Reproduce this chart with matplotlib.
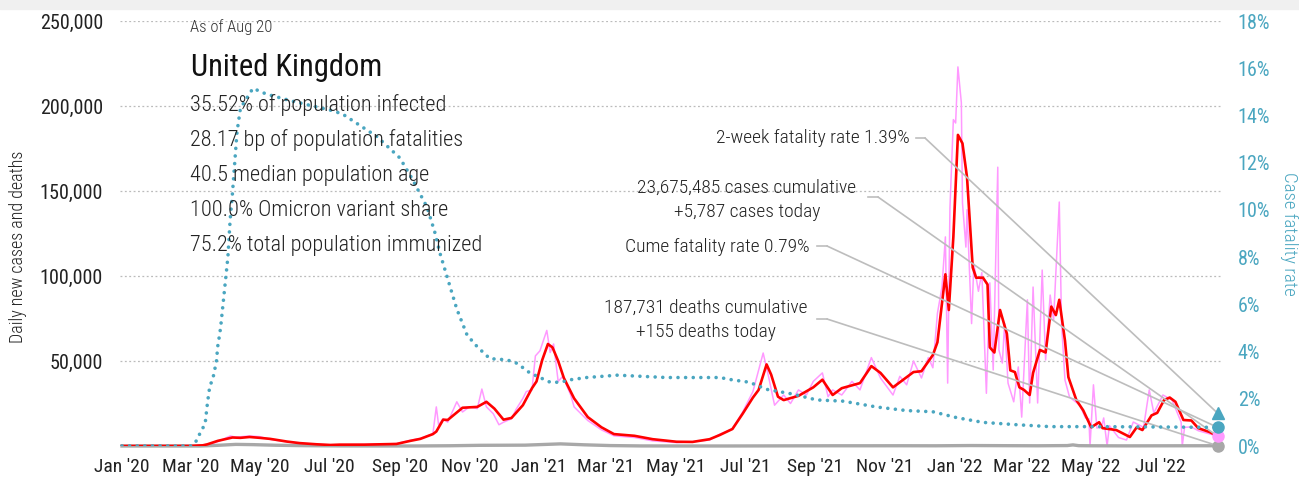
import matplotlib
matplotlib.use("Agg")
import matplotlib.pyplot as plt
import matplotlib.font_manager as fm
import matplotlib.dates as mdates
from matplotlib.patches import Rectangle
import pandas as pd

# ---------------- data ----------------
red_dates = ["2020-01-01","2020-03-01","2020-03-12","2020-03-16","2020-03-25","2020-04-07","2020-04-14","2020-04-22",
             "2020-05-01","2020-05-10","2020-05-25","2020-06-05","2020-06-20","2020-07-02","2020-07-10","2020-08-01",
             "2020-08-29","2020-09-10","2020-09-19","2020-09-30","2020-10-03","2020-10-09","2020-10-13","2020-10-26",
             "2020-11-08","2020-11-16","2020-11-23","2020-12-01","2020-12-08","2020-12-18","2020-12-26","2020-12-30",
             "2021-01-04","2021-01-09","2021-01-13","2021-01-18","2021-01-23","2021-02-01","2021-02-13","2021-02-25",
             "2021-03-08","2021-03-26","2021-04-11","2021-05-02","2021-05-16","2021-05-31","2021-06-09","2021-06-20",
             "2021-06-29","2021-07-08","2021-07-13","2021-07-20","2021-07-24","2021-07-30","2021-08-04","2021-08-17",
             "2021-08-30","2021-09-07","2021-09-16","2021-09-24","2021-10-10","2021-10-20","2021-10-28","2021-11-08",
             "2021-11-14","2021-11-26","2021-12-03","2021-12-13","2021-12-17","2021-12-24","2021-12-27","2021-12-31",
             "2022-01-04","2022-01-08","2022-01-12","2022-01-17","2022-01-20","2022-01-26","2022-01-30","2022-02-01",
             "2022-02-05","2022-02-10","2022-02-16","2022-02-19","2022-02-23","2022-02-27","2022-03-03","2022-03-08",
             "2022-03-11","2022-03-17","2022-03-22","2022-03-27","2022-03-31","2022-04-03","2022-04-08","2022-04-11",
             "2022-04-18","2022-04-24","2022-05-01","2022-05-08","2022-05-11","2022-05-23","2022-06-04","2022-06-10",
             "2022-06-15","2022-06-23","2022-06-28","2022-07-04","2022-07-09","2022-07-14","2022-07-21","2022-07-28",
             "2022-08-03","2022-08-13","2022-08-20"]
red_values = [0,30,400,1000,3000,5000,4800,5300,
              4800,4200,2600,1700,1000,600,800,800,
              1200,3000,4200,7000,8500,15500,15300,22500,
              23000,26000,22000,15500,16500,24000,34000,38000,
              50600,60000,58000,50000,40000,28000,17000,11000,
              7000,6000,4000,2500,2400,4000,6500,10000,
              19000,28500,33000,48000,42000,29000,27000,29500,
              34500,39000,30000,34000,37000,47000,43000,34500,
              37500,43500,44000,53500,61000,101000,80000,123000,
              183000,178000,158000,105000,99000,99000,95000,58000,
              55000,80000,66000,44500,43500,34500,33000,30000,
              43000,56500,55000,82000,77000,86000,62000,40500,
              27000,21000,11000,14000,10500,9400,5300,11000,
              9400,18000,19500,27000,28500,26000,15300,15000,
              10500,8200,5800]

pink_dates = ["2020-01-01","2020-03-01","2020-03-16","2020-03-25","2020-04-05","2020-04-10","2020-04-22","2020-05-01",
              "2020-05-10","2020-05-25","2020-06-05","2020-07-02","2020-08-01","2020-08-29","2020-09-10","2020-09-19",
              "2020-09-30","2020-10-03","2020-10-05","2020-10-09","2020-10-13","2020-10-21","2020-10-26","2020-11-01",
              "2020-11-08","2020-11-12","2020-11-16","2020-11-22","2020-11-27","2020-12-01","2020-12-08","2020-12-12",
              "2020-12-18","2020-12-21","2020-12-26","2020-12-29","2021-01-02","2021-01-08","2021-01-11","2021-01-14",
              "2021-01-18","2021-01-22","2021-01-29","2021-02-01","2021-02-13","2021-02-25","2021-03-08","2021-03-26",
              "2021-04-11","2021-05-02","2021-05-16","2021-05-31","2021-06-09","2021-06-20","2021-06-29","2021-07-08",
              "2021-07-17","2021-07-22","2021-07-27","2021-08-04","2021-08-10","2021-08-17","2021-08-24","2021-08-30",
              "2021-09-07","2021-09-12","2021-09-16","2021-09-24","2021-10-03","2021-10-10","2021-10-20","2021-10-28",
              "2021-11-08","2021-11-14","2021-11-20","2021-11-26","2021-12-03","2021-12-09","2021-12-13","2021-12-17",
              "2021-12-21","2021-12-24","2021-12-26","2021-12-28","2021-12-31","2022-01-02","2022-01-04","2022-01-07",
              "2022-01-08","2022-01-11","2022-01-12","2022-01-16","2022-01-18","2022-01-22","2022-01-25","2022-01-29",
              "2022-02-01","2022-02-04","2022-02-08","2022-02-09","2022-02-12","2022-02-14","2022-02-17","2022-02-22",
              "2022-02-26","2022-03-01","2022-03-06","2022-03-08","2022-03-11","2022-03-15","2022-03-19","2022-03-22",
              "2022-03-26","2022-03-29","2022-04-03","2022-04-05","2022-04-08","2022-04-12","2022-04-21","2022-04-26",
              "2022-04-29","2022-04-30","2022-05-03","2022-05-06","2022-05-10","2022-05-12","2022-05-15","2022-05-17",
              "2022-05-25","2022-06-01","2022-06-07","2022-06-16","2022-06-21","2022-06-25","2022-07-03","2022-07-11",
              "2022-07-19","2022-07-20","2022-07-22","2022-07-28","2022-08-03","2022-08-20"]
pink_values = [0,20,600,2500,5900,5200,5900,5500,
               3900,2400,1600,600,900,1400,3300,4500,
               7200,23000,12500,16000,14000,26000,20000,23000,
               22000,33500,23000,19000,12500,14000,16000,21500,
               28000,32000,33000,53000,56000,68000,55000,60000,
               38000,41000,30000,23000,15000,9500,6000,5000,
               3000,2000,2500,3500,7000,10000,20000,32000,
               54700,40000,24000,30000,25000,33000,30000,38000,
               43000,29000,33000,30000,38000,33000,52000,40000,
               30000,41000,36000,50000,40000,52000,46000,78000,
               93500,123000,37000,140000,192000,190000,223000,202000,
               143000,117000,139000,72000,107000,91000,102000,31000,
               96000,44700,164000,56500,48800,72000,37000,26000,
               46500,17000,86000,25300,93500,25300,103500,50600,
               88800,74000,143500,72000,38800,28800,24000,16500,
               16000,0,36000,10600,11000,16500,0,12000,
               5000,3500,14100,11000,33000,19400,30000,27100,
               14000,0,11000,11200,9000,5787]

death_dates = ["2020-01-01","2020-03-10","2020-03-25","2020-04-10","2020-04-25","2020-05-15","2020-06-10","2020-07-10",
               "2020-08-15","2020-09-15","2020-10-15","2020-11-10","2020-12-01","2020-12-20","2021-01-20","2021-02-10",
               "2021-03-05","2021-04-01","2021-05-15","2021-06-15","2021-07-15","2021-08-15","2021-09-15","2021-10-15",
               "2021-11-15","2021-12-15","2022-01-15","2022-02-10","2022-03-15","2022-04-10","2022-04-15","2022-04-20",
               "2022-05-01","2022-06-01","2022-07-15","2022-08-20"]
death_values = [0,0,400,950,800,450,200,60,
                10,20,150,400,450,500,1250,700,
                250,40,8,10,50,95,130,130,
                150,120,270,200,130,250,650,200,
                130,80,130,155]

cfr_dates = ["2020-01-01","2020-03-02","2020-03-06","2020-03-11","2020-03-14","2020-03-16","2020-03-18","2020-03-21",
             "2020-03-24","2020-03-25","2020-03-27","2020-03-28","2020-04-03","2020-04-05","2020-04-07","2020-04-11",
             "2020-04-14","2020-04-25","2020-05-07","2020-05-30","2020-07-04","2020-07-13","2020-08-12","2020-09-01",
             "2020-09-12","2020-09-25","2020-10-02","2020-10-06","2020-10-21","2020-10-30","2020-11-08","2020-11-19",
             "2020-12-04","2020-12-13","2020-12-24","2021-01-02","2021-01-11","2021-01-20","2021-01-28","2021-02-12",
             "2021-03-11","2021-04-23","2021-06-09","2021-06-20","2021-07-05","2021-07-20","2021-08-12","2021-09-02",
             "2021-09-25","2021-10-25","2021-11-20","2021-12-13","2022-01-03","2022-01-26","2022-02-25","2022-03-26",
             "2022-05-09","2022-08-20"]
cfr_values = [0,0,0.2,0.68,0.93,1.8,2.5,2.9,
              3.6,4.2,4.8,5.2,8.0,9.6,10.7,13.3,
              14.3,15.15,14.9,14.6,14.2,14.05,13.1,12.2,
              11.3,10.1,9.0,8.2,5.8,4.7,4.2,3.7,
              3.65,3.5,3.1,2.9,2.7,2.7,2.8,2.9,
              3.0,2.9,2.9,2.8,2.7,2.4,2.2,1.95,
              1.9,1.65,1.5,1.45,1.2,1.0,0.9,0.82,
              0.82,0.79]

last_date = "2022-08-20"
cases_today = 5787
deaths_today = 155
cume_cfr = 0.79
twoweek_cfr = 1.39

x_tick_dates = ["2020-01-01","2020-03-01","2020-05-01","2020-07-01","2020-09-01","2020-11-01",
                "2021-01-01","2021-03-01","2021-05-01","2021-07-01","2021-09-01","2021-11-01",
                "2022-01-01","2022-03-01","2022-05-01","2022-07-01"]
x_tick_labels = ["Jan '20","Mar '20","May '20","Jul '20","Sep '20","Nov '20",
                 "Jan '21","Mar '21","May '21","Jul '21","Sep '21","Nov '21",
                 "Jan '22","Mar '22","May '22","Jul '22"]
left_ticks = [50000, 100000, 150000, 200000, 250000]
left_labels = ["50,000", "100,000", "150,000", "200,000", "250,000"]
right_ticks = [0, 2, 4, 6, 8, 10, 12, 14, 16, 18]
right_labels = ["0%", "2%", "4%", "6%", "8%", "10%", "12%", "14%", "16%", "18%"]

info_date = "As of Aug 20"
country = "United Kingdom"
stats = ["35.52% of population infected",
         "28.17 bp of population fatalities",
         "40.5 median population age",
         "100.0% Omicron variant share",
         "75.2% total population immunized"]

# ---------------- fonts ----------------
avail = {f.name for f in fm.fontManager.ttflist}
FONT = "Roboto Condensed" if "Roboto Condensed" in avail else "Liberation Sans Narrow"
plt.rcParams["font.family"] = [FONT, "DejaVu Sans"]

# ---------------- figure ----------------
W, H = 1299, 480
fig = plt.figure(figsize=(W / 100, H / 100), dpi=100)
fig.patches.append(Rectangle((0, 1 - 9 / H), 1, 9 / H, transform=fig.transFigure, color="#f0f0f0", zorder=0))

AX_L, AX_R, AX_T, AX_B = 119.7, 1221.0, 21.0, 446.0
ax = fig.add_axes([AX_L / W, 1 - AX_B / H, (AX_R - AX_L) / W, (AX_B - AX_T) / H])
ax2 = ax.twinx()

TEAL = "#4aa6c0"
RED = "#ff0000"
PINK = "#ff99ff"
GRAY = "#a8a8a8"
LEAD = "#bdbdbd"
TXT = "#222222"

rd = pd.to_datetime(red_dates)
pdts = pd.to_datetime(pink_dates)
dd = pd.to_datetime(death_dates)
cd = pd.to_datetime(cfr_dates)
ld = pd.to_datetime(last_date)
ldn = mdates.date2num(ld)

ax.plot(pdts, pink_values, color=PINK, lw=1.1, zorder=2)
ax.plot(dd, death_values, color=GRAY, lw=2.4, zorder=3, clip_on=False)
ax.plot(rd, red_values, color=RED, lw=1.9, zorder=4)
ax2.plot(cd, cfr_values, color=TEAL, lw=2.6, linestyle=(0, (0.01, 2.1)), dash_capstyle="round", zorder=3)

# end markers
ax.plot([ldn], [deaths_today], "o", color=GRAY, ms=8, zorder=6, clip_on=False)
ax.plot([ldn], [cases_today], "o", color=PINK, ms=8, zorder=6, clip_on=False)
ax2.plot([ldn], [cume_cfr], "o", color=TEAL, ms=8, zorder=6, clip_on=False)
ax2.plot([ldn], [twoweek_cfr], "^", color=TEAL, ms=9, zorder=6, clip_on=False)

ax.set_xlim(mdates.date2num(pd.Timestamp("2019-12-30")), mdates.date2num(pd.Timestamp("2022-08-23")))
ax.set_ylim(0, 250000)
ax2.set_ylim(0, 18)

ax.set_xticks(mdates.date2num(pd.to_datetime(x_tick_dates)))
ax.set_xticklabels(x_tick_labels)
ax.set_yticks(left_ticks)
ax.set_yticklabels(left_labels)
ax2.set_yticks(right_ticks)
ax2.set_yticklabels(right_labels)

for a in (ax, ax2):
    for s in a.spines.values():
        s.set_visible(False)
ax.tick_params(axis="x", length=0, pad=9, labelsize=14, labelcolor=TXT)
ax.tick_params(axis="y", length=0, pad=12, labelsize=14.5, labelcolor=TXT)
ax2.tick_params(axis="y", length=0, pad=12, labelsize=14.5, labelcolor=TEAL)
ax.yaxis.grid(True, linestyle=(0, (1.5, 2)), color="#bbbbbb", lw=0.9)
ax.set_axisbelow(True)


def fx(px):
    return px / W


def fy(py):
    return 1 - py / H


fig.text(fx(18), fy(247), "Daily new cases and deaths", rotation=90, fontsize=13, color=TXT,
         ha="center", va="center", fontweight="light")
fig.text(fx(1289), fy(234), "Case fatality rate", rotation=270, fontsize=13.5, color=TEAL,
         ha="center", va="center", fontweight="light")

# info block
fig.text(fx(190), fy(27), info_date, fontsize=12, color="#333333", va="center", ha="left", fontweight="light")
fig.text(fx(191), fy(68), country, fontsize=22, color="#111111", va="center", ha="left")
for i, s in enumerate(stats):
    fig.text(fx(190), fy(105 + 35.2 * i), s, fontsize=16, color=TXT, va="center", ha="left", fontweight="light")

# annotations
ANN = 14
fig.text(fx(910), fy(138), "2-week fatality rate 1.39%", fontsize=ANN, color=TXT, ha="right", va="center",
         fontweight="light")
fig.text(fx(747), fy(200), "23,675,485 cases cumulative\n+5,787 cases today", fontsize=ANN, color=TXT,
         ha="center", va="center", linespacing=1.4, fontweight="light")
fig.text(fx(810), fy(247), "Cume fatality rate 0.79%", fontsize=ANN, color=TXT, ha="right", va="center",
         fontweight="light")
fig.text(fx(706), fy(320), "187,731 deaths cumulative\n+155 deaths today", fontsize=ANN, color=TXT,
         ha="center", va="center", linespacing=1.4, fontweight="light")


def afrac(px, py):
    return ((px - AX_L) / (AX_R - AX_L), (AX_B - py) / (AX_B - AX_T))


def leader(p0, p1, target_ax, target):
    a0 = afrac(*p0)
    a1 = afrac(*p1)
    ax.plot([a0[0], a1[0]], [a0[1], a1[1]], transform=ax.transAxes, color=LEAD, lw=1.2, zorder=5, clip_on=False)
    ax.annotate("", xy=target, xycoords=target_ax.transData, xytext=a1, textcoords="axes fraction",
                arrowprops=dict(arrowstyle="-", color=LEAD, lw=1.2, shrinkA=0, shrinkB=0), zorder=5)


leader((916, 138), (925, 138), ax2, (ldn, twoweek_cfr))
leader((868, 197), (878, 197), ax, (ldn, cases_today))
leader((817, 246), (827, 246), ax2, (ldn, cume_cfr))
leader((817, 319), (827, 319), ax, (ldn, deaths_today))

fig.savefig("out.png", dpi=100)
